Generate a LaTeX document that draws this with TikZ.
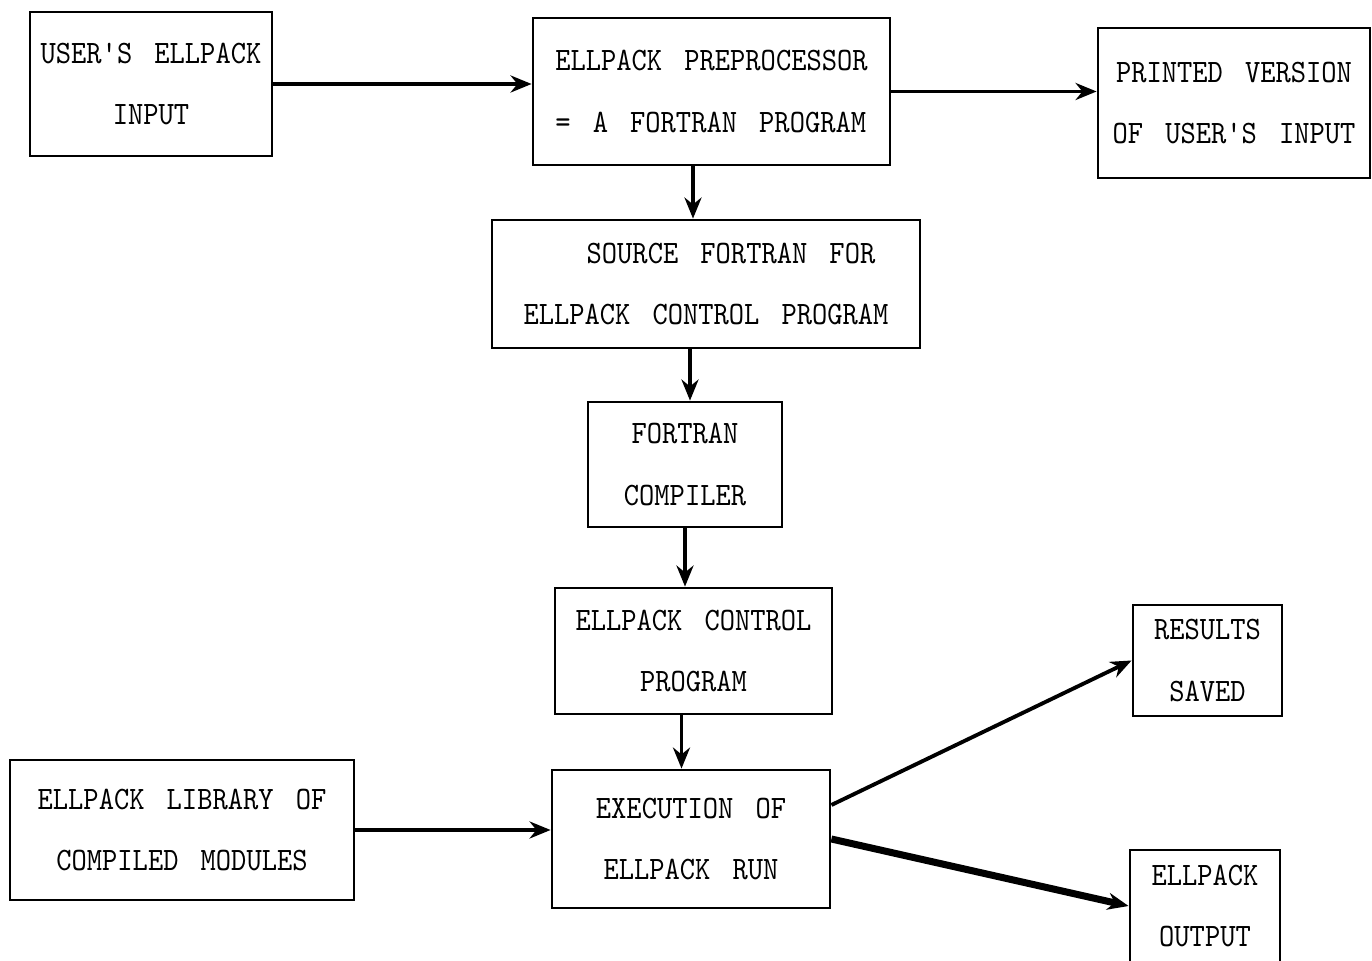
\documentclass[tikz,border=0pt]{standalone}
\usepackage{fontspec}
\usepackage{tikz}
\usetikzlibrary{arrows.meta, positioning, calc}
\newfontfamily\typewr{lmmono10-regular.otf}[FakeStretch=0.89, WordSpace=1.45, Ligatures=TeXOff]
\tikzset{%
	box/.style={draw, rectangle, thick, inner sep=0mm, align=center,%
		font={\typewr\fontsize{9.3}{17.6}\selectfont}},
	flow/.style={-{Stealth[length=2.1mm, width=1.7mm]}, line width=1.1pt},
	bigflow/.style={flow, line width=2pt}
}
\begin{document}
\begin{tikzpicture}[x=0.1mm, y=-0.1mm]
	\useasboundingbox (0,0) rectangle (1372,961);
	\node[box, minimum width=24.2mm, minimum height=14.4mm] (input) at (151,84) {USER'S ELLPACK\\INPUT};
	\node[box, align=left, minimum width=35.7mm, minimum height=14.7mm] (prep) at (711.5,91.5) {ELLPACK PREPROCESSOR\\= A FORTRAN PROGRAM};
	\node[box, minimum width=27.2mm, minimum height=15mm] (printed) at (1234,103) {PRINTED VERSION\\OF USER'S INPUT};
	\node[box, minimum width=42.8mm, minimum height=12.8mm] (source) at (706,284) {\hspace*{5mm}SOURCE FORTRAN FOR\\ELLPACK CONTROL PROGRAM};
	\node[box, minimum width=19.4mm, minimum height=12.5mm] (compiler) at (685,464.5) {FORTRAN\\COMPILER};
	\node[box, minimum width=27.7mm, minimum height=12.6mm] (control) at (693.5,651) {ELLPACK CONTROL\\PROGRAM};
	\node[box, minimum width=27.8mm, minimum height=13.8mm] (exec) at (691,839) {EXECUTION OF\\ELLPACK RUN};
	\node[box, minimum width=34.4mm, minimum height=14mm] (library) at (182,830) {ELLPACK LIBRARY OF\\COMPILED MODULES};
	\node[box, minimum width=14.9mm, minimum height=11.1mm] (saved) at (1207.5,660.5) {RESULTS\\SAVED};
	\node[box, minimum width=15mm, minimum height=11.2mm] (output) at (1205,906) {ELLPACK\\OUTPUT};

	\draw[flow] (input) -- (input -| prep.west);
	\draw[flow] (prep) -- (prep -| printed.west);
	\draw[flow] ([xshift=-1.85mm]prep.south) -- ([xshift=-1.85mm]prep.south |- source.north);
	\draw[flow] ([xshift=0.5mm]compiler.north |- source.south) -- ([xshift=0.5mm]compiler.north);
	\draw[flow] (compiler.south) -- (compiler.south |- control.north);
	\draw[flow] ([xshift=-1.2mm]control.south) -- ([xshift=-1.2mm]control.south |- exec.north);
	\draw[flow] (library) -- (library -| exec.west);
	\draw[flow] ([yshift=3.4mm]exec.east) -- (saved.west);
	\draw[bigflow] (exec.east) -- (output.west);
\end{tikzpicture}
\end{document}
